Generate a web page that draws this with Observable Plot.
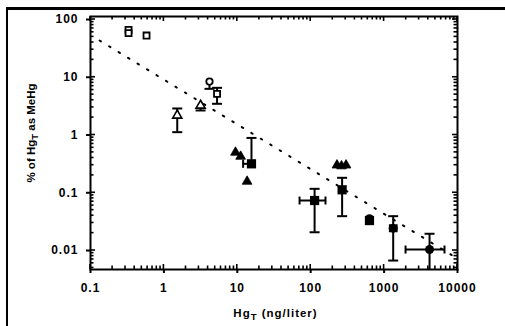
<!DOCTYPE html>
<html><head><meta charset="utf-8">
<script src="https://cdn.jsdelivr.net/npm/d3@7"></script>
<script src="https://cdn.jsdelivr.net/npm/@observablehq/plot@0.6"></script>
<style>
html,body{margin:0;background:#fff;overflow:hidden;}
#wrap{position:relative;width:505px;height:326px;overflow:hidden;background:#fff;}
#border{position:absolute;left:6px;top:7px;width:700px;height:500px;border-left:2px solid #000;border-top:3px solid #000;}
#chart{position:absolute;left:0;top:0;}
</style></head><body>
<div id="wrap"><div id="border"></div><div id="chart"></div></div>
<script>
// ---- axis domains, tick values / labels ----
const xDomain = [0.1, 10000];
const yDomain = [0.00469, 112.7];
const xMajor = [0.1, 1, 10, 100, 1000, 10000];
const xMajorLabels = ["0.1", "1", "10", "100", "1000", "10000"];
const yMajor = [0.01, 0.1, 1, 10, 100];
const yMajorLabels = ["0.01", "0.1", "1", "10", "100"];
const minorSteps = [2, 3, 4, 5, 6, 7, 8, 9];
const xLabel = "Hg_T (ng/liter)";
const yLabel = "% of Hg_T as MeHg";

// ---- data series ----
const openSquareX = [0.33, 0.33, 0.58, 5.3];
const openSquareY = [66, 58, 52.8, 5.16];
const openTriangleX = [1.52, 3.16];
const openTriangleY = [2.18, 3.24];
const openCircleX = [4.18];
const openCircleY = [8.4];
const filledTriangleX = [9.45, 11.1, 13.6, 228, 263, 303];
const filledTriangleY = [0.50, 0.425, 0.157, 0.30, 0.29, 0.30];
const filledSquareX = [15.6, 113, 268, 632];
const filledSquareY = [0.317, 0.0734, 0.1125, 0.033];
const filledCircleX = [632, 1330, 4160];
const filledCircleY = [0.0355, 0.0243, 0.0104];

// vertical error bars
const vErrX = [1.52, 3.16, 4.18, 5.3, 15.6, 113, 268, 1330, 4160];
const vErrLo = [1.12, 2.66, 6.3, 3.47, 0.30, 0.0207, 0.0393, 0.0067, 0.003];
const vErrHi = [2.88, 3.4, 8.4, 6.56, 0.89, 0.117, 0.1815, 0.0393, 0.0195];
const vCapLo = [1, 1, 1, 1, 0, 1, 1, 1, 0];
const vCapHi = [1, 0, 0, 1, 1, 1, 1, 1, 1];
// horizontal error bars
const hErrY = [0.317, 0.0734, 0.0243, 0.0104];
const hErrLo = [12.0, 70.5, 1200, 1960];
const hErrHi = [17, 159, 1480, 6650];

// regression (dotted) line end points
const fitX = [0.133, 9400];
const fitY = [43.3, 0.0076];

// ---- build tables ----
const pts = (xs, ys) => xs.map((x, i) => ({x, y: ys[i]}));
const vErr = vErrX.map((x, i) => ({x, lo: vErrLo[i], hi: vErrHi[i], capLo: vCapLo[i], capHi: vCapHi[i]}));
const hErr = hErrY.map((y, i) => ({y, lo: hErrLo[i], hi: hErrHi[i]}));
const fit = pts(fitX, fitY);
const xMinorVals = xMajor.slice(0, -1).flatMap(d => minorSteps.map(k => d * k));
const yMinorVals = [0.001, ...yMajor.slice(0, -1)].flatMap(d => minorSteps.map(k => d * k)).filter(v => v > yDomain[0] && v < 100);

const hCap = {draw(ctx, size) { const r = Math.sqrt(size / Math.PI); ctx.moveTo(-r, 0); ctx.lineTo(r, 0); }};
const vCap = {draw(ctx, size) { const r = Math.sqrt(size / Math.PI); ctx.moveTo(0, -r); ctx.lineTo(0, r); }};

const xFmt = d => xMajorLabels[xMajor.indexOf(d)];
const yFmt = d => yMajorLabels[yMajor.indexOf(d)];

const chart = Plot.plot({
  width: 505,
  height: 326,
  marginLeft: 90,
  marginRight: 48,
  marginTop: 16,
  marginBottom: 57,
  style: {fontFamily: "'Liberation Sans', Arial, sans-serif", fontWeight: "bold", color: "black", background: "transparent"},
  x: {type: "log", domain: xDomain},
  y: {type: "log", domain: yDomain},
  marks: [
    Plot.frame({stroke: "black", fill: "none", strokeWidth: 2}),
    // axes: majors with labels (outward)
    Plot.axisX(xMajor, {anchor: "bottom", tickSize: 4, tickPadding: 10, tickFormat: xFmt, fontSize: 12, strokeWidth: 2, label: null}),
    Plot.axisY(yMajor, {anchor: "left", tickSize: 4, tickPadding: 8, tickFormat: yFmt, fontSize: 12, strokeWidth: 2, label: null}),
    // regression line
    Plot.line(fit, {x: "x", y: "y", stroke: "black", strokeWidth: 2, strokeDasharray: "1.6,9.5"}),
    // error bars
    Plot.ruleX(vErr, {x: "x", y1: "lo", y2: "hi", stroke: "black", strokeWidth: 2, clip: true}),
    Plot.dot(vErr.filter(d => d.capLo), {x: "x", y: "lo", symbol: hCap, r: 5, stroke: "black", strokeWidth: 2}),
    Plot.dot(vErr.filter(d => d.capHi), {x: "x", y: "hi", symbol: hCap, r: 5, stroke: "black", strokeWidth: 2}),
    Plot.ruleY(hErr, {y: "y", x1: "lo", x2: "hi", stroke: "black", strokeWidth: 2}),
    Plot.dot(hErr, {x: "lo", y: "y", symbol: vCap, r: 4, stroke: "black", strokeWidth: 2}),
    Plot.dot(hErr, {x: "hi", y: "y", symbol: vCap, r: 4, stroke: "black", strokeWidth: 2}),
    // symbols
    Plot.dot(pts(openSquareX, openSquareY), {x: "x", y: "y", symbol: "square", r: 3.4, fill: "white", stroke: "black", strokeWidth: 1.8}),
    Plot.dot(pts(openTriangleX, openTriangleY), {x: "x", y: "y", symbol: "triangle", r: 3.4, fill: "white", stroke: "black", strokeWidth: 1.6}),
    Plot.dot(pts(openCircleX, openCircleY), {x: "x", y: "y", symbol: "circle", r: 3.2, fill: "white", stroke: "black", strokeWidth: 1.8}),
    Plot.dot(pts(filledTriangleX, filledTriangleY), {x: "x", y: "y", symbol: "triangle", r: 3.6, fill: "black", stroke: "black", strokeWidth: 0.8}),
    Plot.dot(pts(filledSquareX, filledSquareY), {x: "x", y: "y", symbol: "square", r: 5.2, fill: "black"}),
    Plot.dot(pts(filledCircleX, filledCircleY), {x: "x", y: "y", symbol: "circle", r: 4.5, fill: "black"}),
    // axis labels
    Plot.text([yLabel], {text: d => d, frameAnchor: "left", rotate: -90, dx: -59, dy: -10, fontSize: 11.5, lineAnchor: "middle", textAnchor: "middle", fill: "black"}),
    Plot.text([xLabel], {text: d => d, frameAnchor: "bottom", dx: 1.5, dy: 44, fontSize: 11.5, lineAnchor: "middle", textAnchor: "middle", fill: "black"})
  ]
});

// inward ticks on all four frame edges, positioned through Plot's own scales
(function addInnerTicks() {
  const sx = chart.scale("x"), sy = chart.scale("y");
  const [x0, x1] = sx.range, [y0, y1] = sy.range; // y0 bottom, y1 top
  const left = Math.min(x0, x1), right = Math.max(x0, x1);
  const top = Math.min(y0, y1), bottom = Math.max(y0, y1);
  const svg = d3.select(chart);
  const g = svg.append("g").attr("aria-label", "inner ticks").attr("stroke", "black").attr("stroke-width", 1.6);
  const xt = [...xMajor.map(v => [v, 5]), ...xMinorVals.map(v => [v, 3.5])];
  const yt = [...yMajor.map(v => [v, 5]), ...yMinorVals.map(v => [v, 3.5])];
  for (const [v, len] of xt) {
    const px = sx.apply(v);
    g.append("line").attr("x1", px).attr("x2", px).attr("y1", bottom).attr("y2", bottom - len);
    g.append("line").attr("x1", px).attr("x2", px).attr("y1", top).attr("y2", top + len);
  }
  for (const [v, len] of yt) {
    const py = sy.apply(v);
    g.append("line").attr("y1", py).attr("y2", py).attr("x1", left).attr("x2", left + len);
    g.append("line").attr("y1", py).attr("y2", py).attr("x1", right).attr("x2", right - len);
  }
})();

// subscript T and letter spacing for horizontal text
chart.querySelectorAll("text").forEach(t => {
  const s = t.textContent;
  if (s.includes("Hg_T")) {
    const [a, b] = s.split("_T");
    const esc = v => v.replace(/&/g, "&amp;").replace(/</g, "&lt;");
    t.innerHTML = `${esc(a)}<tspan dy="3" font-size="9.5">T</tspan><tspan dy="-3">${esc(b)}</tspan>`;
    if (s === xLabel) t.style.letterSpacing = "1px";
  } else if (s) {
    t.style.letterSpacing = "1px";
  }
});
document.getElementById("chart").appendChild(chart);
</script>
</body></html>
